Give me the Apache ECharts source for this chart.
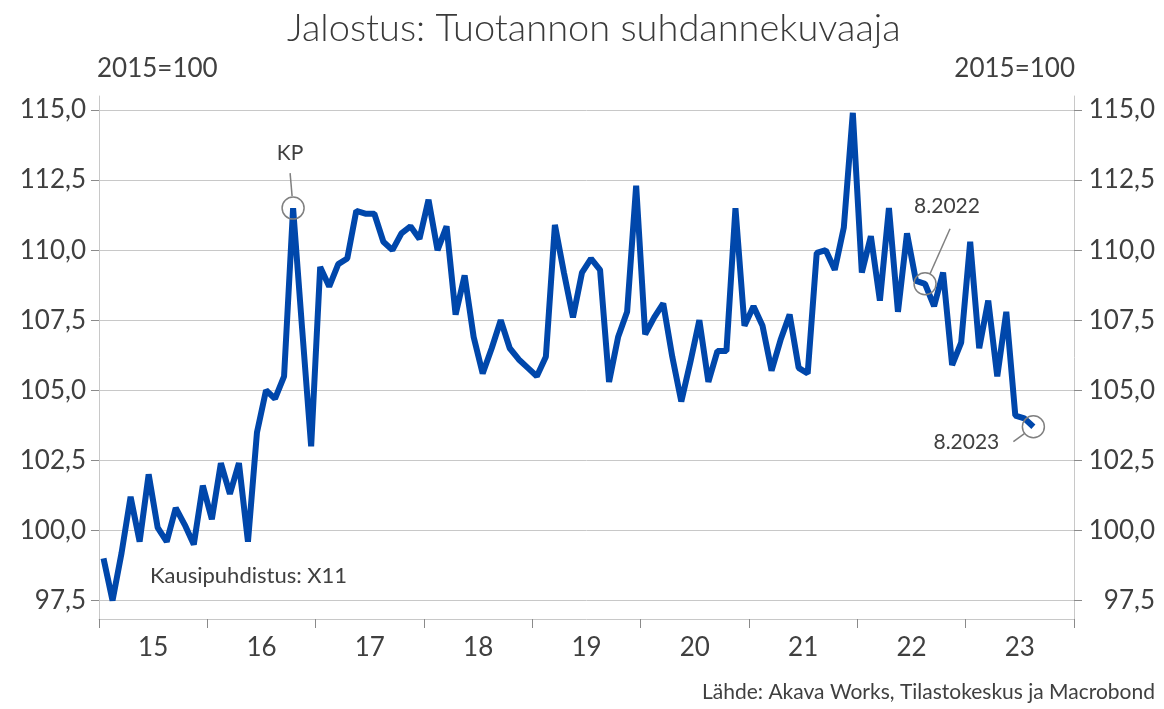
<!DOCTYPE html>
<html>
<head>
<meta charset="utf-8">
<script src="https://cdn.jsdelivr.net/npm/echarts@6/dist/echarts.min.js"></script>
<style>
html, body { margin: 0; padding: 0; background: #fff; }
#chart { width: 1164px; height: 709px; }
</style>
</head>
<body>
<div id="chart"></div>
<script>
// Jalostus, tuotannon suhdannekuvaaja (2015=100), kuukausittain 1/2015 - 8/2023
const years = ['15', '16', '17', '18', '19', '20', '21', '22', '23']
const v2015 = [99.0, 97.5, 99.2, 101.2, 99.6, 102.0, 100.1, 99.6, 100.8, 100.2, 99.5, 101.6]
const v2016 = [100.4, 102.4, 101.3, 102.4, 99.6, 103.5, 105.0, 104.7, 105.5, 111.5, 107.2, 103.0]
const v2017 = [109.4, 108.7, 109.5, 109.7, 111.4, 111.3, 111.3, 110.3, 110.0, 110.6, 110.85, 110.4]
const v2018 = [111.8, 110.0, 110.85, 107.7, 109.1, 106.9, 105.6, 106.5, 107.5, 106.5, 106.1, 105.8]
const v2019 = [105.5, 106.2, 110.9, 109.2, 107.6, 109.2, 109.7, 109.3, 105.3, 106.9, 107.8, 112.3]
const v2020 = [107.0, 107.6, 108.1, 106.2, 104.6, 106.0, 107.5, 105.3, 106.4, 106.4, 111.5, 107.3]
const v2021 = [108.0, 107.3, 105.7, 106.8, 107.7, 105.8, 105.6, 109.9, 110.0, 109.3, 110.8, 114.9]
const v2022 = [109.2, 110.5, 108.2, 111.5, 107.8, 110.6, 108.9, 108.8, 108.0, 109.2, 105.9, 106.7]
const v2023 = [110.3, 106.5, 108.2, 105.5, 107.8, 104.1, 104.0, 103.7]
const yTicks = [97.5, 100, 102.5, 105, 107.5, 110, 112.5, 115]

// merkinnät: teksti + kuukauden indeksi
const notes = [
    { text: 'KP', idx: 21 },
    { text: '8.2022', idx: 91 },
    { text: '8.2023', idx: 103 },
]

const values = [].concat(v2015, v2016, v2017, v2018, v2019, v2020, v2021, v2022, v2023)
const months = []
years.forEach(y => {
    for (let m = 1; m <= 12; m++) months.push(m + '.20' + y)
})

const FONT = 'Lato, "Open Sans", sans-serif'
const TXT = '#404040'
const GRIDC = '#c8c8c8'
const TICKC = '#8a8a8a'
const BLUE = '#0047ab'
const fmt = v => Number(v).toFixed(1).replace('.', ',')

const chart = echarts.init(document.getElementById('chart'))

const yAxisBase = {
    type: 'value',
    min: 96.84,
    max: 115.5,
    axisLine: { show: true, lineStyle: { color: GRIDC } },
    axisTick: { show: true, length: 8, customValues: yTicks, lineStyle: { color: TICKC } },
    splitLine: { show: true, lineStyle: { color: GRIDC, width: 1 } },
}

chart.setOption({
    animation: false,
    title: {
        text: 'Jalostus: Tuotannon suhdannekuvaaja',
        left: 282,
        top: 5,
        textStyle: { fontFamily: FONT, fontWeight: 300, fontSize: 38, color: '#3a3a3a' },
    },
    grid: { left: 99, right: 90, top: 96, bottom: 90 },
    xAxis: [
        {
            type: 'category',
            data: months,
            boundaryGap: true,
            axisLine: { show: true, lineStyle: { color: GRIDC } },
            axisTick: { show: false },
            axisLabel: { show: false },
            splitLine: { show: false },
        },
        {
            type: 'category',
            data: years,
            position: 'bottom',
            boundaryGap: true,
            axisLine: { show: false },
            axisTick: { show: true, length: 9, lineStyle: { color: TICKC } },
            axisLabel: { margin: 16, fontSize: 26, color: TXT, fontFamily: FONT },
            splitLine: { show: false },
        },
    ],
    yAxis: [
        Object.assign({}, yAxisBase, {
            position: 'left',
            axisLabel: { customValues: yTicks, formatter: fmt, margin: 13, fontSize: 26, color: TXT, fontFamily: FONT },
        }),
        Object.assign({}, yAxisBase, {
            position: 'right',
            splitLine: { show: false },
            axisLabel: { customValues: yTicks, formatter: fmt, margin: 81, align: 'right', fontSize: 26, color: TXT, fontFamily: FONT },
        }),
    ],
    series: [
        {
            type: 'line',
            data: values,
            xAxisIndex: 0,
            yAxisIndex: 0,
            symbol: 'none',
            lineStyle: { width: 6, color: BLUE },
            z: 3,
        },
    ],
})

// merkintöjen sijoittelu (siirtymät pisteestä pikseleinä)
const noteLayout = {
    'KP': { line: [-1, -12, -3, -35], label: [-3, -55] },
    '8.2022': { line: [5, -10, 25, -55], label: [22, -78] },
    '8.2023': { line: [-9, 7, -20, 15], label: [-67, 16] },
}

const graphics = [
    { type: 'text', left: 97, top: 56, style: { text: '2015=100', font: '26px ' + FONT, fill: TXT } },
    { type: 'text', right: 89, top: 56, style: { text: '2015=100', font: '26px ' + FONT, fill: TXT } },
    { type: 'text', left: 150, top: 565, style: { text: 'Kausipuhdistus: X11', font: '22px ' + FONT, fill: TXT } },
    { type: 'text', right: 9, top: 682, style: { text: 'Lähde: Akava Works, Tilastokeskus ja Macrobond', font: '21px ' + FONT, fill: TXT } },
]

notes.forEach(n => {
    const p = chart.convertToPixel({ seriesIndex: 0 }, [n.idx, values[n.idx]])
    const lay = noteLayout[n.text]
    graphics.push({
        type: 'circle',
        shape: { cx: p[0], cy: p[1], r: 11 },
        style: { fill: 'none', stroke: '#808080', lineWidth: 1.5 },
        z: 10,
    })
    graphics.push({
        type: 'line',
        shape: { x1: p[0] + lay.line[0], y1: p[1] + lay.line[1], x2: p[0] + lay.line[2], y2: p[1] + lay.line[3] },
        style: { stroke: '#808080', lineWidth: 1.5 },
        z: 10,
    })
    graphics.push({
        type: 'text',
        x: p[0] + lay.label[0],
        y: p[1] + lay.label[1],
        style: { text: n.text, font: '21px ' + FONT, fill: TXT, align: 'center', verticalAlign: 'middle' },
        z: 10,
    })
})

chart.setOption({ graphic: graphics })
</script>
</body>
</html>
